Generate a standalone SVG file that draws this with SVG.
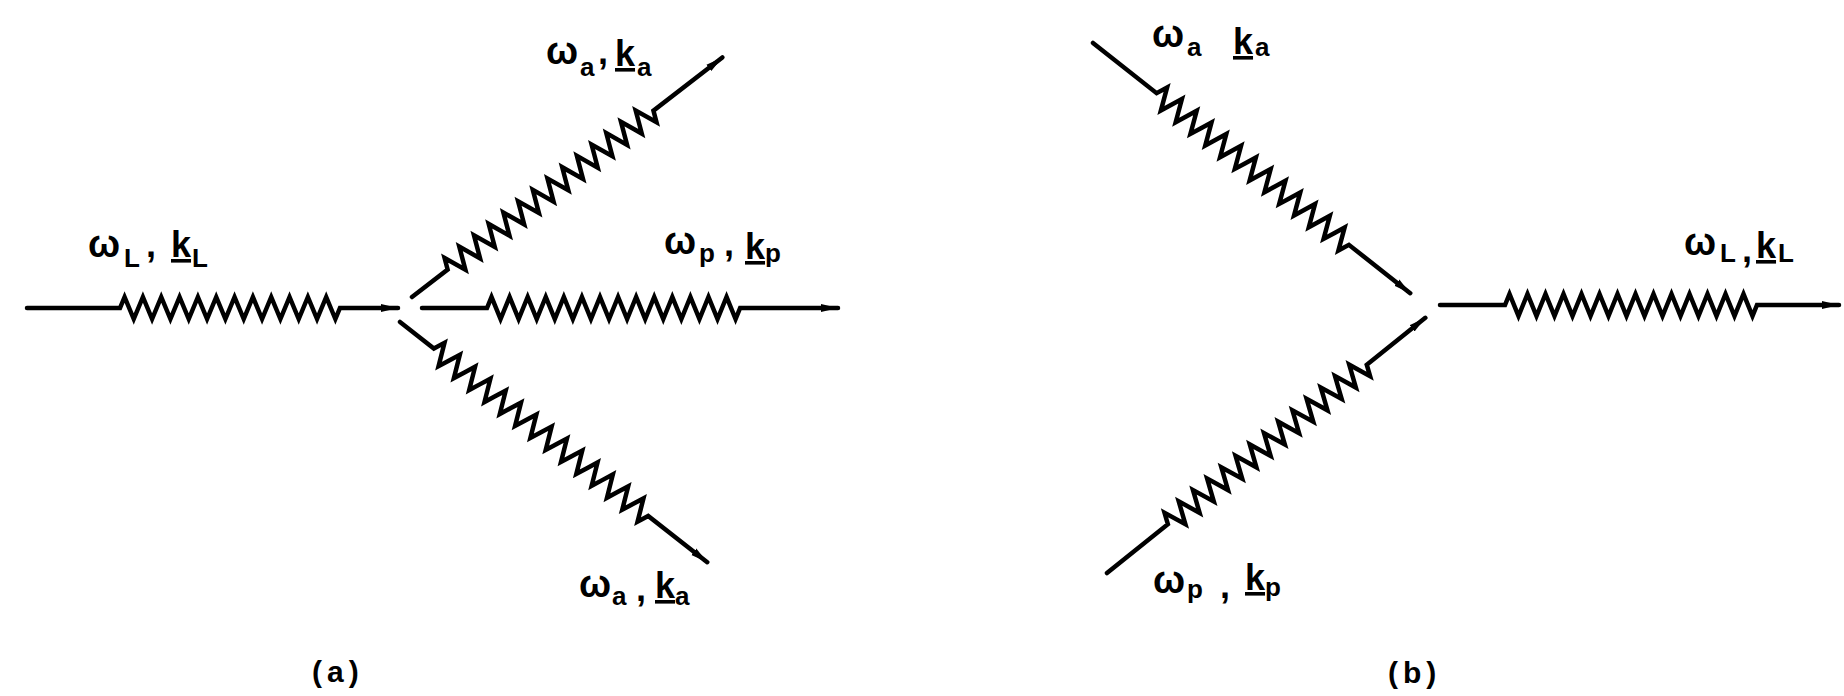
<svg xmlns="http://www.w3.org/2000/svg" width="1844" height="696" viewBox="0 0 1844 696">
<defs>
<style>
.w{fill:none;stroke:#000;stroke-width:4.5;stroke-linejoin:miter;stroke-linecap:round;marker-end:url(#ah)}
.lbl{font-family:"Liberation Sans",Arial,sans-serif;font-weight:bold;font-size:36px;fill:#000}
.om{font-size:38px}
.sub{font-size:26px}
.k{text-decoration:underline}
.cap{font-family:"Liberation Sans",Arial,sans-serif;font-weight:bold;font-size:30px;fill:#000;letter-spacing:5px}
</style>
<marker id="ah" markerUnits="userSpaceOnUse" markerWidth="20" markerHeight="12" refX="17" refY="6" orient="auto">
<path d="M0,2 L17,6 L0,10 z" fill="#000"/>
</marker>
</defs>
<rect width="1844" height="696" fill="#fff"/>
<g id="connectors">
<path id="a-in" class="w" transform="translate(27,308)" d="M0,0 H93 l4.58,-11 9.17,22 4.58,-11 l4.58,-11 9.17,22 4.58,-11 l4.58,-11 9.17,22 4.58,-11 l4.58,-11 9.17,22 4.58,-11 l4.58,-11 9.17,22 4.58,-11 l4.58,-11 9.17,22 4.58,-11 l4.58,-11 9.17,22 4.58,-11 l4.58,-11 9.17,22 4.58,-11 l4.58,-11 9.17,22 4.58,-11 l4.58,-11 9.17,22 4.58,-11 l4.58,-11 9.17,22 4.58,-11 l4.58,-11 9.17,22 4.58,-11 H371"/>
<path id="a-up" class="w" transform="translate(412,297) rotate(-37.66)" d="M0,0 H45 l4.64,-11 9.29,22 4.64,-11 l4.64,-11 9.29,22 4.64,-11 l4.64,-11 9.29,22 4.64,-11 l4.64,-11 9.29,22 4.64,-11 l4.64,-11 9.29,22 4.64,-11 l4.64,-11 9.29,22 4.64,-11 l4.64,-11 9.29,22 4.64,-11 l4.64,-11 9.29,22 4.64,-11 l4.64,-11 9.29,22 4.64,-11 l4.64,-11 9.29,22 4.64,-11 l4.64,-11 9.29,22 4.64,-11 l4.64,-11 9.29,22 4.64,-11 l4.64,-11 9.29,22 4.64,-11 l4.64,-11 9.29,22 4.64,-11 H392"/>
<path id="a-mid" class="w" transform="translate(422,308)" d="M0,0 H65 l4.52,-11 9.04,22 4.52,-11 l4.52,-11 9.04,22 4.52,-11 l4.52,-11 9.04,22 4.52,-11 l4.52,-11 9.04,22 4.52,-11 l4.52,-11 9.04,22 4.52,-11 l4.52,-11 9.04,22 4.52,-11 l4.52,-11 9.04,22 4.52,-11 l4.52,-11 9.04,22 4.52,-11 l4.52,-11 9.04,22 4.52,-11 l4.52,-11 9.04,22 4.52,-11 l4.52,-11 9.04,22 4.52,-11 l4.52,-11 9.04,22 4.52,-11 l4.52,-11 9.04,22 4.52,-11 l4.52,-11 9.04,22 4.52,-11 H416"/>
<path id="a-low" class="w" transform="translate(400,322) rotate(38.02)" d="M0,0 H43 l4.86,-11 9.71,22 4.86,-11 l4.86,-11 9.71,22 4.86,-11 l4.86,-11 9.71,22 4.86,-11 l4.86,-11 9.71,22 4.86,-11 l4.86,-11 9.71,22 4.86,-11 l4.86,-11 9.71,22 4.86,-11 l4.86,-11 9.71,22 4.86,-11 l4.86,-11 9.71,22 4.86,-11 l4.86,-11 9.71,22 4.86,-11 l4.86,-11 9.71,22 4.86,-11 l4.86,-11 9.71,22 4.86,-11 l4.86,-11 9.71,22 4.86,-11 l4.86,-11 9.71,22 4.86,-11 l4.86,-11 9.71,22 4.86,-11 H390"/>
<path id="b-up" class="w" transform="translate(1093,43) rotate(38.26)" d="M0,0 H81 l4.71,-11 9.42,22 4.71,-11 l4.71,-11 9.42,22 4.71,-11 l4.71,-11 9.42,22 4.71,-11 l4.71,-11 9.42,22 4.71,-11 l4.71,-11 9.42,22 4.71,-11 l4.71,-11 9.42,22 4.71,-11 l4.71,-11 9.42,22 4.71,-11 l4.71,-11 9.42,22 4.71,-11 l4.71,-11 9.42,22 4.71,-11 l4.71,-11 9.42,22 4.71,-11 l4.71,-11 9.42,22 4.71,-11 l4.71,-11 9.42,22 4.71,-11 l4.71,-11 9.42,22 4.71,-11 H404"/>
<path id="b-low" class="w" transform="translate(1107,573) rotate(-38.72)" d="M0,0 H78 l4.55,-11 9.11,22 4.55,-11 l4.55,-11 9.11,22 4.55,-11 l4.55,-11 9.11,22 4.55,-11 l4.55,-11 9.11,22 4.55,-11 l4.55,-11 9.11,22 4.55,-11 l4.55,-11 9.11,22 4.55,-11 l4.55,-11 9.11,22 4.55,-11 l4.55,-11 9.11,22 4.55,-11 l4.55,-11 9.11,22 4.55,-11 l4.55,-11 9.11,22 4.55,-11 l4.55,-11 9.11,22 4.55,-11 l4.55,-11 9.11,22 4.55,-11 l4.55,-11 9.11,22 4.55,-11 l4.55,-11 9.11,22 4.55,-11 H408"/>
<path id="b-out" class="w" transform="translate(1440,305)" d="M0,0 H65 l4.5,-11 9,22 4.5,-11 l4.5,-11 9,22 4.5,-11 l4.5,-11 9,22 4.5,-11 l4.5,-11 9,22 4.5,-11 l4.5,-11 9,22 4.5,-11 l4.5,-11 9,22 4.5,-11 l4.5,-11 9,22 4.5,-11 l4.5,-11 9,22 4.5,-11 l4.5,-11 9,22 4.5,-11 l4.5,-11 9,22 4.5,-11 l4.5,-11 9,22 4.5,-11 l4.5,-11 9,22 4.5,-11 l4.5,-11 9,22 4.5,-11 l4.5,-11 9,22 4.5,-11 H399"/>
</g>
<g id="label-a-L">
<text class="lbl" y="257"><tspan class="om" x="88">ω</tspan><tspan class="sub" x="124" y="267">L</tspan><tspan x="146" y="257">,</tspan><tspan class="k" x="171">k</tspan><tspan class="sub" x="192" y="267">L</tspan></text>
</g>
<g id="label-a-up">
<text class="lbl" y="64"><tspan class="om" x="546">ω</tspan><tspan class="sub" x="580" y="76">a</tspan><tspan x="598" y="64">,</tspan><tspan class="k" x="615" y="66">k</tspan><tspan class="sub" x="637" y="76">a</tspan></text>
</g>
<g id="label-a-mid">
<text class="lbl" y="254"><tspan class="om" x="664">ω</tspan><tspan class="sub" x="699" y="262">p</tspan><tspan x="724" y="256">,</tspan><tspan class="k" x="745" y="259">k</tspan><tspan class="sub" x="765" y="262">p</tspan></text>
</g>
<g id="label-a-low">
<text class="lbl" y="597"><tspan class="om" x="579">ω</tspan><tspan class="sub" x="612" y="605">a</tspan><tspan x="636" y="601">,</tspan><tspan class="k" x="655" y="598">k</tspan><tspan class="sub" x="675" y="605">a</tspan></text>
</g>
<g id="label-b-up">
<text class="lbl" y="47"><tspan class="om" x="1152">ω</tspan><tspan class="sub" x="1187" y="56">a</tspan><tspan class="k" x="1233" y="54">k</tspan><tspan class="sub" x="1255" y="56">a</tspan></text>
</g>
<g id="label-b-low">
<text class="lbl" y="593"><tspan class="om" x="1153">ω</tspan><tspan class="sub" x="1187" y="598">p</tspan><tspan x="1220" y="598">,</tspan><tspan class="k" x="1245" y="590">k</tspan><tspan class="sub" x="1265" y="596">p</tspan></text>
</g>
<g id="label-b-L">
<text class="lbl" y="255"><tspan class="om" x="1684">ω</tspan><tspan class="sub" x="1720" y="262">L</tspan><tspan x="1742" y="262">,</tspan><tspan class="k" x="1756" y="258">k</tspan><tspan class="sub" x="1778" y="262">L</tspan></text>
</g>
<g id="caption-a"><text class="cap" x="312" y="682">(a)</text></g>
<g id="caption-b"><text class="cap" x="1388" y="683">(b)</text></g>
</svg>
